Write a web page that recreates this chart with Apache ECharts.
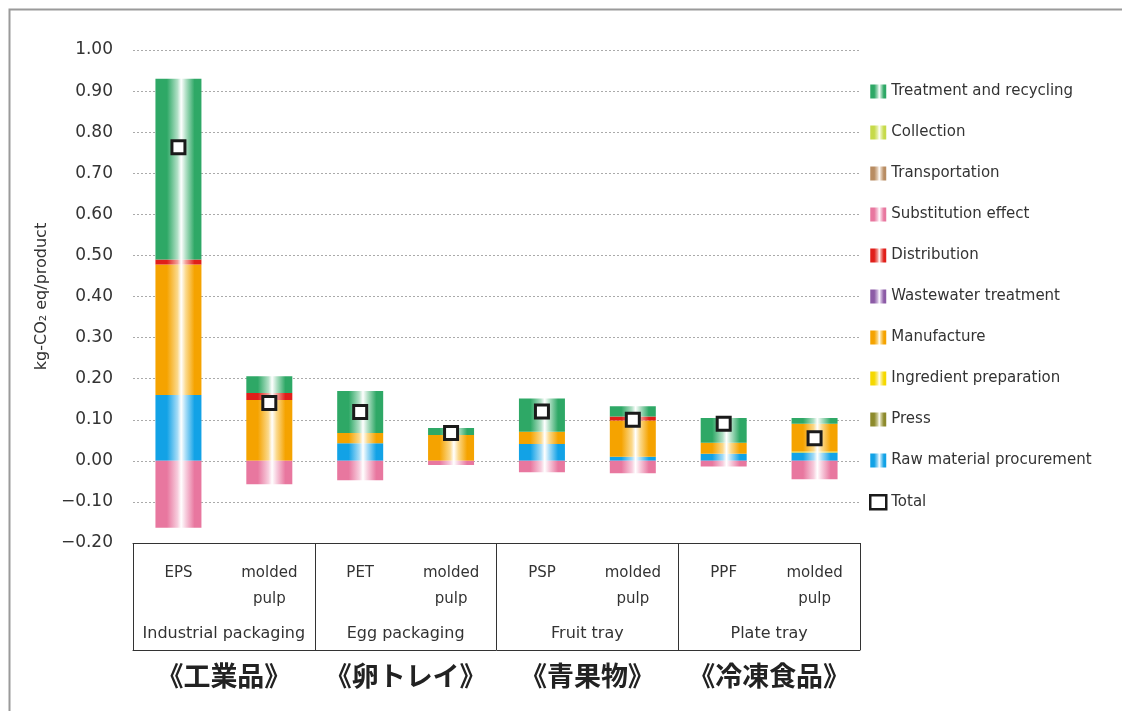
<!DOCTYPE html>
<html>
<head>
<meta charset="utf-8">
<script src="https://cdn.jsdelivr.net/npm/echarts@6/dist/echarts.min.js"></script>
<style>html,body{margin:0;padding:0;background:#fff;}#c{width:1122px;height:711px;}</style>
</head>
<body>
<div id="c"></div>
<script>
// ---- data ----
const categories = ['EPS', 'molded\npulp', 'PET', 'molded\npulp', 'PSP', 'molded\npulp', 'PPF', 'molded\npulp'];
const groupLabels = ['Industrial packaging', 'Egg packaging', 'Fruit tray', 'Plate tray'];
const groupLabelsJa = ['《工業品》', '《卵トレイ》', '《青果物》', '《冷凍食品》'];
const yTicks = { min: -0.2, max: 1.0, interval: 0.1 };

const rawMaterial   = [0.160, 0.000, 0.043, 0.000, 0.041, 0.010, 0.017, 0.020];
const press         = [0, 0, 0, 0, 0, 0, 0, 0];
const ingredient    = [0, 0, 0, 0, 0, 0, 0, 0.003];
const manufacture   = [0.318, 0.148, 0.025, 0.063, 0.030, 0.088, 0.027, 0.067];
const wastewater    = [0, 0, 0, 0, 0, 0, 0, 0];
const distribution  = [0.012, 0.017, 0, 0, 0, 0.010, 0, 0];
const substitution  = [-0.163, -0.057, -0.047, -0.010, -0.028, -0.030, -0.014, -0.045];
const transportation= [0, 0, 0, 0, 0, 0, 0, 0];
const collection    = [0, 0, 0, 0, 0, 0, 0, 0];
const treatment     = [0.440, 0.041, 0.102, 0.017, 0.081, 0.025, 0.060, 0.014];
const total         = [0.763, 0.141, 0.119, 0.068, 0.120, 0.100, 0.090, 0.055];

// ---- styles ----
const FONT = 'DejaVu Sans';
function grad(c, light) {
  return { type: 'linear', x: 0, y: 0, x2: 1, y2: 0, colorStops: [
    { offset: 0, color: c }, { offset: 0.25, color: c }, { offset: 0.48, color: light },
    { offset: 0.56, color: '#ffffff' }, { offset: 0.66, color: light }, { offset: 0.85, color: c }, { offset: 1, color: c }
  ]};
}
const seriesDefs = [
  ['Raw material procurement', rawMaterial, '#12a2e6', '#a6dcf7'],
  ['Press', press, '#8d8a2c', '#d2d0a0'],
  ['Ingredient preparation', ingredient, '#f5d800', '#fbef9a'],
  ['Manufacture', manufacture, '#f5a300', '#fbd98c'],
  ['Wastewater treatment', wastewater, '#8c5ba6', '#d3bde0'],
  ['Distribution', distribution, '#e01f1a', '#f3a09a'],
  ['Substitution effect', substitution, '#e8779f', '#f7cddd'],
  ['Transportation', transportation, '#b88c62', '#e6d2be'],
  ['Collection', collection, '#c6da4a', '#e9f2b2'],
  ['Treatment and recycling', treatment, '#2ea866', '#b2e0c6']
];

const series = seriesDefs.map(([name, data, c, l]) => ({
  name, type: 'bar', stack: 'lca', data, barWidth: 46, xAxisIndex: 0,
  itemStyle: { color: grad(c, l) }
}));
series.push({
  name: 'Total', type: 'scatter', data: total, xAxisIndex: 0, symbol: 'rect', symbolSize: 13, z: 10,
  itemStyle: { color: '#ffffff', borderColor: '#1a1a1a', borderWidth: 3, opacity: 1 }
});

const legendOrder = ['Treatment and recycling', 'Collection', 'Transportation', 'Substitution effect', 'Distribution',
  'Wastewater treatment', 'Manufacture', 'Ingredient preparation', 'Press', 'Raw material procurement'];
const legendData = legendOrder.map(n => ({ name: n, icon: 'rect' }));
legendData.push({ name: 'Total', icon: 'rect', itemStyle: { color: '#fff', borderColor: '#1a1a1a', borderWidth: 2.5 } });

const chart = echarts.init(document.getElementById('c'), null, { renderer: 'canvas' });
chart.setOption({
  backgroundColor: '#ffffff',
  animation: false,
  textStyle: { fontFamily: FONT },
  graphic: [{
    type: 'rect', left: 7, top: 7, shape: { width: 1130, height: 720 },
    style: { fill: 'none', stroke: '#9a9a9a', lineWidth: 2 }, silent: true
  }],
  grid: { left: 133, right: 262, top: 50, bottom: 168 },
  legend: {
    orient: 'vertical', left: 869, top: 84, padding: 0, itemWidth: 16, itemHeight: 14, itemGap: 26,
    textStyle: { fontFamily: FONT, fontSize: 15, color: '#333' },
    data: legendData, selectedMode: false
  },
  xAxis: [
    {
      type: 'category', data: categories, position: 'bottom',
      axisLine: { show: true, onZero: false, lineStyle: { color: '#333', width: 1 } },
      axisTick: { show: false },
      axisLabel: { interval: 0, margin: 17, fontFamily: FONT, fontSize: 15, color: '#333', lineHeight: 26, align: 'center' }
    },
    {
      type: 'category', data: groupLabels, position: 'bottom', offset: 0,
      axisLine: { show: false, onZero: false },
      axisTick: { show: true, length: 107, interval: 0, lineStyle: { color: '#333', width: 1 } },
      axisLabel: { interval: 0, margin: 83, fontFamily: FONT, fontSize: 16, color: '#333' }
    },
    {
      type: 'category', data: groupLabelsJa, position: 'bottom', offset: 107,
      axisLine: { show: true, onZero: false, lineStyle: { color: '#333', width: 1 } },
      axisTick: { show: false },
      axisLabel: { interval: 0, margin: 12, fontFamily: 'Noto Sans CJK JP', fontSize: 27, fontWeight: 'bold', color: '#222' }
    }
  ],
  yAxis: {
    type: 'value', min: yTicks.min, max: yTicks.max, interval: yTicks.interval,
    name: 'kg-CO₂ eq/product', nameLocation: 'middle', nameGap: 82, nameRotate: 90,
    nameTextStyle: { fontFamily: FONT, fontSize: 16, color: '#333' },
    axisLine: { show: false }, axisTick: { show: false },
    axisLabel: {
      margin: 20, fontFamily: FONT, fontSize: 17, color: '#333',
      formatter: v => (v < -1e-9 ? '−' + Math.abs(v).toFixed(2) : Math.abs(v).toFixed(2))
    },
    splitLine: { show: true, lineStyle: { color: '#aaaaaa', type: [2, 2], width: 1 } }
  },
  series
});
</script>
</body>
</html>
